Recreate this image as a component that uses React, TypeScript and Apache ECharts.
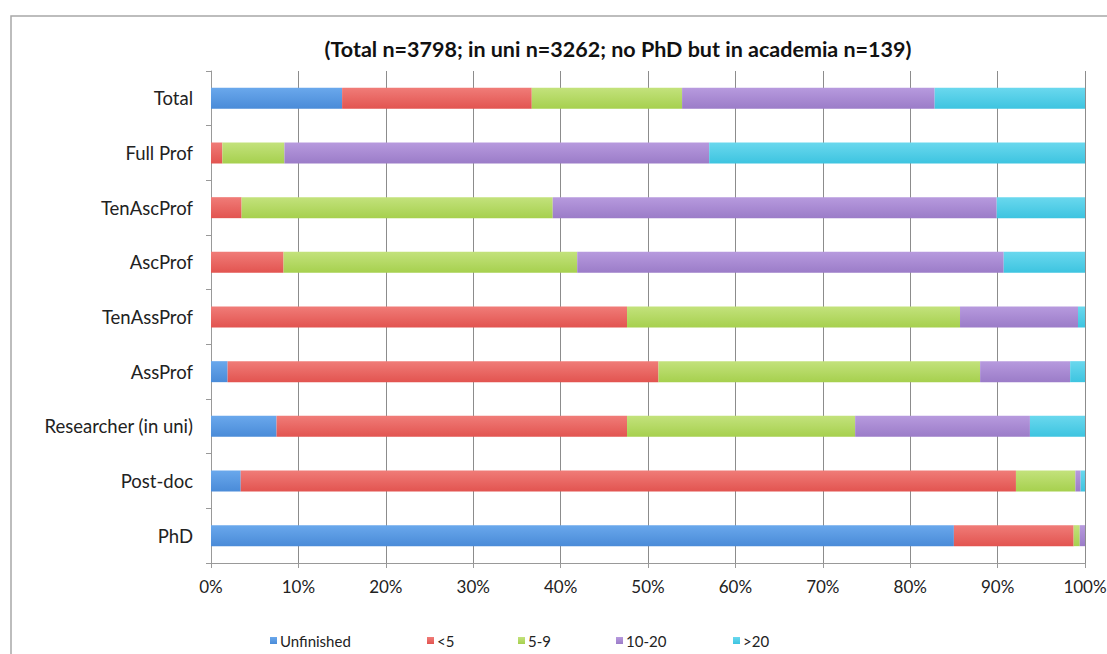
import React, { useEffect, useRef } from "react";
import * as echarts from "echarts";

const categories = [
  "Total",
  "Full Prof",
  "TenAscProf",
  "AscProf",
  "TenAssProf",
  "AssProf",
  "Researcher (in uni)",
  "Post-doc",
  "PhD",
];

const seriesNames = ["Unfinished", "<5", "5-9", "10-20", ">20"];

const unfinished = [15.0, 0, 0, 0, 0, 1.9, 7.5, 3.4, 85.0];
const lt5 = [21.7, 1.3, 3.5, 8.3, 47.6, 49.3, 40.1, 88.7, 13.7];
const y5to9 = [17.2, 7.1, 35.6, 33.6, 38.1, 36.8, 26.1, 6.8, 0.7];
const y10to20 = [28.9, 48.6, 50.8, 48.8, 13.5, 10.3, 20.0, 0.6, 0.6];
const gt20 = [17.2, 43.0, 10.1, 9.3, 0.8, 1.7, 6.3, 0.5, 0];

const titleText = "(Total n=3798; in uni n=3262; no PhD but in academia n=139)";

const colorsTop = ["#6aa8ec", "#f07c78", "#c3e27c", "#b79ade", "#6ad8ee"];
const colorsBottom = ["#4a8bd8", "#e25450", "#a6d04e", "#9b7cc8", "#3dc4e0"];

const FONT = "Lato, 'Open Sans', sans-serif";

export default function App() {
  const ref = useRef<HTMLDivElement>(null);

  useEffect(() => {
    document.body.style.margin = "0";
    const chart = echarts.init(ref.current!, null, { renderer: "svg" });
    const values = [unfinished, lt5, y5to9, y10to20, gt20];
    const legendLefts = [265, 422, 513, 611, 728];

    const option: any = {
      animation: false,
      backgroundColor: "#ffffff",
      textStyle: { fontFamily: FONT },
      title: {
        text: titleText,
        left: 613,
        top: 33,
        textAlign: "center",
        textStyle: {
          fontFamily: FONT,
          fontWeight: "bold",
          fontSize: 21.5,
          color: "#111",
        },
      },
      graphic: [
        {
          type: "rect",
          shape: { x: 11, y: 16, width: 1120, height: 700 },
          style: { fill: "none", stroke: "#a8a8a8", lineWidth: 1.5 },
          silent: true,
          z: -1,
        },
      ],
      legend: seriesNames.map((name, i) => ({
        data: [name],
        left: legendLefts[i],
        top: 628,
        itemWidth: 7,
        itemHeight: 7,
        itemGap: 4,
        icon: "rect",
        textStyle: { fontFamily: FONT, fontSize: 15, color: "#222", padding: [0, 0, 0, -2] },
      })),
      grid: { left: 211, right: 22, top: 71, bottom: 91, outerBoundsMode: "none", containLabel: false },
      xAxis: {
        type: "value",
        min: 0,
        max: 100,
        interval: 10,
        axisLabel: {
          formatter: "{value}%",
          fontFamily: FONT,
          fontSize: 17,
          color: "#222",
          margin: 15,
        },
        axisLine: { show: true, lineStyle: { color: "#999", width: 1 } },
        axisTick: { show: true, length: 5, lineStyle: { color: "#999" } },
        splitLine: { show: true, lineStyle: { color: "#8c8c8c", width: 1 } },
      },
      yAxis: {
        type: "category",
        inverse: true,
        data: categories,
        axisLabel: {
          fontFamily: FONT,
          fontSize: 18.5,
          color: "#222",
          margin: 18,
        },
        axisLine: { show: true, lineStyle: { color: "#999", width: 1 } },
        axisTick: { show: true, length: 5, alignWithLabel: false, lineStyle: { color: "#999" } },
        splitLine: { show: false },
      },
      series: seriesNames.map((name, i) => ({
        name,
        type: "bar",
        stack: "total",
        barWidth: 21,
        data: values[i],
        itemStyle: {
          color: new echarts.graphic.LinearGradient(0, 0, 0, 1, [
            { offset: 0, color: colorsTop[i] },
            { offset: 1, color: colorsBottom[i] },
          ]),
        },
        emphasis: { disabled: true },
      })),
    };
    chart.setOption(option);
    return () => chart.dispose();
  }, []);

  return <div ref={ref} style={{ width: 1107, height: 654 }} />;
}
